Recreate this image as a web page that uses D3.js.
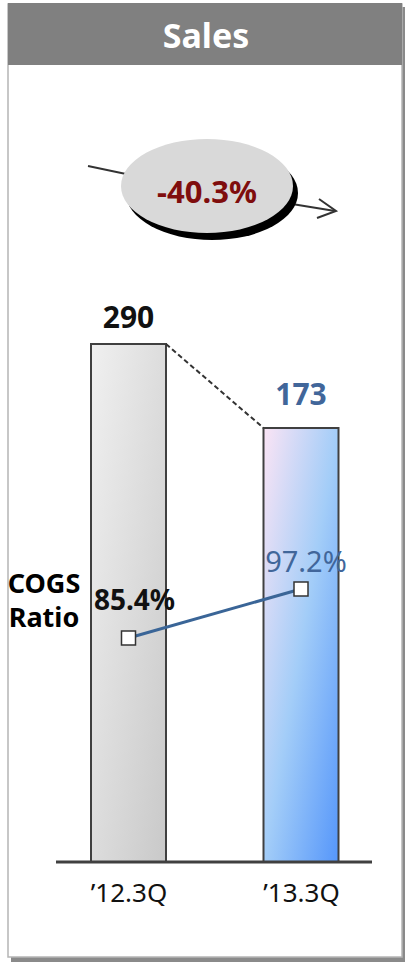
<!DOCTYPE html>
<html><head><meta charset="utf-8">
<script src="https://cdn.jsdelivr.net/npm/d3@7"></script>
<style>body{margin:0;background:#fff}svg{display:block}</style>
</head><body>
<script>
const categories = ["\u201912.3Q", "\u201913.3Q"];
const sales = [290, 173];
const salesLabels = ["290", "173"];
const cogsRatio = [85.4, 97.2];
const cogsLabels = ["85.4%", "97.2%"];
const cogsTitle = ["COGS", "Ratio"];
const changeLabel = "-40.3%";
const title = "Sales";

const W = 405, H = 962;
const font = "'Noto Sans', 'Open Sans', sans-serif";
const svg = d3.select("body").append("svg").attr("width", W).attr("height", H);
const defs = svg.append("defs");

const g1 = defs.append("linearGradient").attr("id","gGray").attr("x1",0).attr("y1",0).attr("x2",1).attr("y2",1);
g1.append("stop").attr("offset",0).attr("stop-color","#f0f0f0");
g1.append("stop").attr("offset",1).attr("stop-color","#c9c9c9");
const g2 = defs.append("linearGradient").attr("id","gBlue").attr("x1",0).attr("y1",0).attr("x2",1).attr("y2",1);
g2.append("stop").attr("offset",0).attr("stop-color","#fbe4f5");
g2.append("stop").attr("offset",0.5).attr("stop-color","#a3cdf8");
g2.append("stop").attr("offset",1).attr("stop-color","#5596fa");

// frame with shadow
svg.append("rect").attr("x",11).attr("y",7).attr("width",394).attr("height",955).attr("fill","#8a8a8a");
svg.append("rect").attr("x",8).attr("y",4).attr("width",394).attr("height",953).attr("fill","#fff").attr("stroke","#b5b5b5").attr("stroke-width",1.5);
svg.append("rect").attr("x",8).attr("y",3).attr("width",394).attr("height",62).attr("fill","#808080");
svg.append("text").attr("x",206).attr("y",48).attr("text-anchor","middle").attr("fill","#fff")
  .attr("font-family",font).attr("font-weight","bold").attr("font-size",34).text(title);

// scales
const x = d3.scalePoint().domain(categories).range([128.5, 301]);
const y = d3.scaleLinear().domain([-431.5, 290]).range([862, 344]);
const yr = d3.scaleLinear().domain([85.4, 97.2]).range([638, 589]);
const bw = 75;
const base = y(-431.5);

// bars
const data = categories.map((c,i)=>({c, v:sales[i], lab:salesLabels[i], r:cogsRatio[i], rl:cogsLabels[i], i}));
svg.selectAll("rect.bar").data(data).enter().append("rect").attr("class","bar")
  .attr("x",d=>x(d.c)-bw/2).attr("y",d=>y(d.v)).attr("width",bw).attr("height",d=>base-y(d.v))
  .attr("fill",d=>d.i===0?"url(#gGray)":"url(#gBlue)").attr("stroke","#404040").attr("stroke-width",2);

// dashed connector
svg.append("line").attr("x1",x(categories[0])+bw/2).attr("y1",y(sales[0]))
  .attr("x2",x(categories[1])-bw/2).attr("y2",y(sales[1]))
  .attr("stroke","#333").attr("stroke-width",2).attr("stroke-dasharray","5,3");

// baseline axis
const axis = d3.axisBottom(x).tickSize(0).tickPadding(40);
const ax = svg.append("g").attr("transform",`translate(0,${base})`).call(axis);
ax.select(".domain").remove();
ax.selectAll("text").attr("font-family",font).attr("font-size",26).attr("fill","#111").attr("dy","0");
svg.append("line").attr("x1",56).attr("x2",372).attr("y1",base).attr("y2",base).attr("stroke","#404040").attr("stroke-width",3);

// bar value labels
svg.selectAll("text.val").data(data).enter().append("text").attr("class","val")
  .attr("x",d=>x(d.c)).attr("y",d=>y(d.v)-(d.i===0?16:23)).attr("text-anchor","middle")
  .attr("font-family",font).attr("font-weight","bold").attr("font-size",30)
  .attr("fill",d=>d.i===0?"#111":"#41669a").text(d=>d.lab);

// COGS line
svg.append("path").datum(data).attr("fill","none").attr("stroke","#3a6597").attr("stroke-width",3)
  .attr("d",d3.line().x(d=>x(d.c)).y(d=>yr(d.r)));
svg.selectAll("rect.mk").data(data).enter().append("rect").attr("class","mk")
  .attr("x",d=>x(d.c)-7).attr("y",d=>yr(d.r)-7).attr("width",14).attr("height",14)
  .attr("fill","#fff").attr("stroke","#333").attr("stroke-width",1.5);
svg.selectAll("text.rl").data(data).enter().append("text").attr("class","rl")
  .attr("x",d=>x(d.c)+(d.i===0?6:5)).attr("y",d=>yr(d.r)-(d.i===0?28:17)).attr("text-anchor","middle")
  .attr("font-family",font).attr("font-weight",d=>d.i===0?"bold":"normal").attr("font-size",d=>d.i===0?28:29)
  .attr("fill",d=>d.i===0?"#111":"#41669a").text(d=>d.rl);

// COGS Ratio label (two lines)
svg.selectAll("text.ct").data(cogsTitle).enter().append("text").attr("class","ct")
  .attr("x",44).attr("y",(d,i)=>593+i*34).attr("text-anchor","middle").attr("font-family",font)
  .attr("font-weight","bold").attr("font-size",27).attr("fill","#000").text(d=>d);

// change bubble with arrow
svg.append("line").attr("x1",88).attr("y1",166).attr("x2",126).attr("y2",174).attr("stroke","#333").attr("stroke-width",2);
svg.append("line").attr("x1",292).attr("y1",204).attr("x2",335).attr("y2",211).attr("stroke","#333").attr("stroke-width",2);
svg.append("path").attr("d","M319,199 L336,211 L317,218").attr("fill","none").attr("stroke","#333").attr("stroke-width",2);
svg.append("ellipse").attr("cx",212).attr("cy",193).attr("rx",86).attr("ry",47).attr("fill","#000");
svg.append("ellipse").attr("cx",207).attr("cy",186).attr("rx",86).attr("ry",47).attr("fill","#d9d9d9");
svg.append("text").attr("x",207).attr("y",203).attr("text-anchor","middle").attr("font-family",font)
  .attr("font-weight","bold").attr("font-size",31).attr("fill","#7f0d0d").text(changeLabel);
</script>
</body></html>
